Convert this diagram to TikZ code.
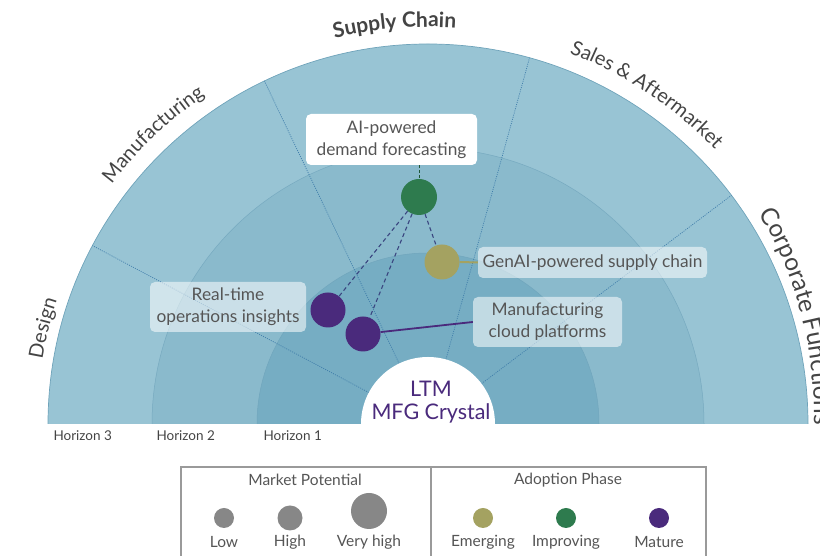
\documentclass[tikz,border=0pt]{standalone}
\usepackage{fontspec}
\setmainfont{Lato}
\usetikzlibrary{decorations.text}
\definecolor{ringA}{HTML}{98C4D4}
\definecolor{ringB}{HTML}{8ABACC}
\definecolor{ringC}{HTML}{76ADC3}
\definecolor{ringline}{HTML}{6FA3BA}
\definecolor{sectorcol}{HTML}{3F7DAA}
\definecolor{navy}{HTML}{3A4680}
\definecolor{gcol}{HTML}{2E7B4E}
\definecolor{ocol}{HTML}{A4A261}
\definecolor{pcol}{HTML}{4A2A7C}
\definecolor{txt}{HTML}{555555}
\definecolor{arctxt}{HTML}{444444}
\definecolor{legcirc}{HTML}{878787}
\definecolor{legline}{HTML}{9A9A9A}
\tikzset{
  sectorline/.style={sectorcol, line width=0.7pt, dash pattern=on 1pt off 1.2pt},
  lblbox/.style={rounded corners=5pt, fill=white, fill opacity=0.55, text opacity=1, text=txt, align=center, font=\fontsize{17.3}{22}\selectfont, inner sep=0pt},
  aibox/.style={lblbox, fill opacity=1},
  dot/.style={circle, inner sep=0pt, minimum size=#1},
  navydash/.style={navy, line width=1.1pt, dash pattern=on 4pt off 3pt},
  aiconn/.style={gcol!70!black, line width=1pt, dash pattern=on 3pt off 2pt},
  legtxt/.style={text=txt, font=\fontsize{15.5}{15.5}\selectfont},
  hortxt/.style={text=arctxt, anchor=west, font=\fontsize{13.5}{13.5}\selectfont},
}
\begin{document}
\begin{tikzpicture}[x=1pt,y=1pt]
\useasboundingbox (0,0) rectangle (820,556);
\begin{scope}[shift={(428,132)}]
  % rings
  \fill[ringA] (-380,0) arc[start angle=180,end angle=0,radius=380] -- cycle;
  \draw[ringline, line width=0.7pt] (-380,0) arc[start angle=180,end angle=0,radius=380];
  \fill[ringB] (-276,0) arc[start angle=180,end angle=0,radius=276] -- cycle;
  \draw[ringline!70!ringB, line width=0.5pt] (-276,0) arc[start angle=180,end angle=0,radius=276];
  \fill[ringC] (-171,0) arc[start angle=180,end angle=0,radius=171] -- cycle;
  \draw[ringline!70!ringC, line width=0.5pt] (-171,0) arc[start angle=180,end angle=0,radius=171];
  % sector dividers
  \foreach \a in {152,115.5,74.5,37}
    \draw[sectorline] (\a:67) -- (\a:380);
  % centre
  \fill[white] (-67,0) arc[start angle=180,end angle=0,radius=67] -- cycle;
  % arc labels
  \path[decorate, decoration={text along path, text align=center,
    text={|\fontsize{20}{20}\selectfont\color{arctxt}|Design}}]
    (186:391) arc[start angle=186,end angle=146,radius=391];
  \path[decorate, decoration={text along path, text align=center,
    text={|\fontsize{20}{20}\selectfont\color{arctxt}|Manufacturing}}]
    (163.5:397) arc[start angle=163.5,end angle=103.5,radius=397];
  \path[decorate, decoration={text along path, text align=center,
    text={|\fontsize{21}{21}\selectfont\bfseries\color{arctxt}|Supply Chain}}]
    (124.8:397) arc[start angle=124.8,end angle=64.8,radius=397];
  \path[decorate, decoration={text along path, text align=center,
    text={|\fontsize{20}{20}\selectfont\color{arctxt}|Sales {\&} Aftermarket}}]
    (86.4:397) arc[start angle=86.4,end angle=26.4,radius=397];
\end{scope}
\begin{scope}[shift={(428,144)}]
  \path[decorate, decoration={text along path,
    text={|\fontsize{24.5}{24.5}\selectfont\color{arctxt}|Corporate Functions}}]
    (31:386) arc[start angle=31,end angle=-40,radius=386];
\end{scope}

% horizon labels
\node[hortxt] (h3) at (50,120) {Horizon 3};
\node[hortxt] (h2) at (153,120) {Horizon 2};
\node[hortxt] (h1) at (260,120) {Horizon 1};

% centre label
\node[text=pcol, font=\fontsize{21.5}{23}\selectfont, align=center] (ltm) at (431,153.5) {LTM\\MFG Crystal};

% label boxes
\node[aibox, minimum width=171pt, minimum height=51pt] (ai) at (391.5,416.5) {AI-powered\\demand forecasting};
\node[lblbox, minimum width=229pt, minimum height=31pt] (gen) at (592.5,293.5) {GenAI-powered supply chain};
\node[lblbox, minimum width=156pt, minimum height=50pt] (rt) at (228,249) {Real-time\\operations insights};
\node[lblbox, minimum width=149pt, minimum height=50pt] (mcp) at (547.5,234) {Manufacturing\\cloud platforms};

% bubbles
\node[dot=36pt, fill=gcol] (g) at (419,359) {};
\node[dot=35pt, fill=ocol] (o) at (442,294) {};
\node[dot=35pt, fill=pcol] (p1) at (328,246) {};
\node[dot=35pt, fill=pcol] (p2) at (363,222) {};

% connectors
\draw[aiconn] (g.north |- ai.south) -- (g.north);
\draw[navydash] (g) -- (o);
\draw[navydash] (g) -- (p1);
\draw[navydash] (g) -- (p2);
\draw[ocol, line width=2pt] (o.east) -- (gen.west);
\draw[pcol, line width=1.8pt] (p2) -- (mcp.west);

% legend
\draw[legline, line width=1.3pt] (181,89) rectangle (706,-5);
\draw[legline, line width=1.3pt] (431,89) -- (431,-5);
\node[text=txt, font=\fontsize{15.5}{15.5}\selectfont] (mp) at (305,76) {Market Potential};
\node[text=txt, font=\fontsize{15.5}{15.5}\selectfont] (ap) at (568,76) {Adoption Phase};
\node[dot=20pt, fill=legcirc] (lowc) at (224,38) {};
\node[dot=25pt, fill=legcirc] (highc) at (290,38) {};
\node[dot=36pt, fill=legcirc] (vhc) at (369,45) {};
\node[dot=20pt, fill=ocol] (emc) at (483,38) {};
\node[dot=20pt, fill=gcol] (imc) at (566,38) {};
\node[dot=20pt, fill=pcol] (mac) at (659,38) {};
\node[legtxt] (lowt) at (224,14) {Low};
\node[legtxt] (hight) at (290,14) {High};
\node[legtxt] (vht) at (369,14) {Very high};
\node[legtxt] (emt) at (483,14) {Emerging};
\node[legtxt] (imt) at (566,14) {Improving};
\node[legtxt] (mat) at (659,14) {Mature};
\end{tikzpicture}
\end{document}
